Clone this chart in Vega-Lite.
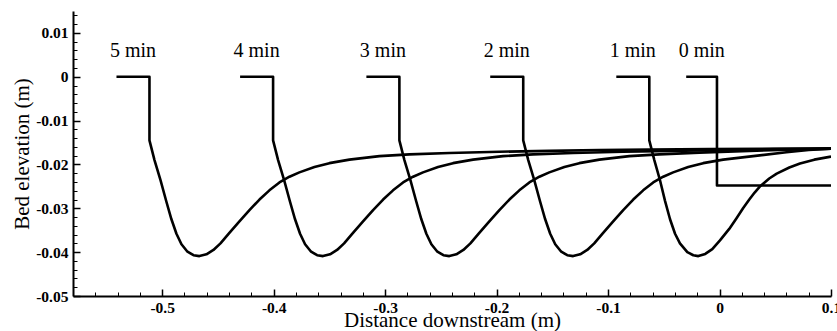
{
  "$schema": "https://vega.github.io/schema/vega-lite/v6.json",
  "width": 758,
  "height": 285,
  "autosize": {"type": "none"},
  "padding": {"left": 73, "top": 11, "right": 6, "bottom": 35},
  "background": "white",
  "config": {
    "view": {"stroke": null},
    "axis": {
      "grid": false,
      "domainColor": "black",
      "domainWidth": 2,
      "tickColor": "black",
      "tickWidth": 1.5,
      "labelFont": "Liberation Serif",
      "labelFontSize": 15.5,
      "labelFontWeight": "bold",
      "labelColor": "black",
      "labelFlush": false,
      "labelOverlap": false,
      "titleFont": "Liberation Serif",
      "titleFontSize": 21,
      "titleFontWeight": "normal",
      "titleColor": "black"
    }
  },
  "datasets": {
    "profiles": [
      {"t": "0 min", "x": -0.0299, "y": 0},
      {"t": "0 min", "x": -0.0023, "y": 0},
      {"t": "0 min", "x": -0.0023, "y": -0.0248},
      {"t": "0 min", "x": 0.1, "y": -0.0248},

      {"t": "1 min", "x": -0.0926, "y": 0},
      {"t": "1 min", "x": -0.063, "y": 0},
      {"t": "1 min", "x": -0.063, "y": -0.0145},
      {"t": "1 min", "x": -0.0585, "y": -0.019},
      {"t": "1 min", "x": -0.0534, "y": -0.0236},
      {"t": "1 min", "x": -0.0489, "y": -0.0283},
      {"t": "1 min", "x": -0.0444, "y": -0.0325},
      {"t": "1 min", "x": -0.0399, "y": -0.0358},
      {"t": "1 min", "x": -0.0355, "y": -0.038},
      {"t": "1 min", "x": -0.0289, "y": -0.04},
      {"t": "1 min", "x": -0.0235, "y": -0.0407},
      {"t": "1 min", "x": -0.019, "y": -0.0409},
      {"t": "1 min", "x": -0.0128, "y": -0.0404},
      {"t": "1 min", "x": -0.0065, "y": -0.0393},
      {"t": "1 min", "x": 0.0004, "y": -0.0373},
      {"t": "1 min", "x": 0.0087, "y": -0.0347},
      {"t": "1 min", "x": 0.0154, "y": -0.0322},
      {"t": "1 min", "x": 0.0211, "y": -0.03},
      {"t": "1 min", "x": 0.0267, "y": -0.028},
      {"t": "1 min", "x": 0.0315, "y": -0.0264},
      {"t": "1 min", "x": 0.0363, "y": -0.025},
      {"t": "1 min", "x": 0.0446, "y": -0.0232},
      {"t": "1 min", "x": 0.0513, "y": -0.0221},
      {"t": "1 min", "x": 0.0626, "y": -0.0207},
      {"t": "1 min", "x": 0.0722, "y": -0.0198},
      {"t": "1 min", "x": 0.085, "y": -0.0189},
      {"t": "1 min", "x": 0.1, "y": -0.0182},

      {"t": "2 min", "x": -0.2057, "y": 0},
      {"t": "2 min", "x": -0.1761, "y": 0},
      {"t": "2 min", "x": -0.1761, "y": -0.0145},
      {"t": "2 min", "x": -0.1716, "y": -0.019},
      {"t": "2 min", "x": -0.1662, "y": -0.0236},
      {"t": "2 min", "x": -0.1609, "y": -0.0285},
      {"t": "2 min", "x": -0.1564, "y": -0.0325},
      {"t": "2 min", "x": -0.1519, "y": -0.0358},
      {"t": "2 min", "x": -0.1474, "y": -0.0382},
      {"t": "2 min", "x": -0.142, "y": -0.0399},
      {"t": "2 min", "x": -0.1366, "y": -0.0407},
      {"t": "2 min", "x": -0.1313, "y": -0.0409},
      {"t": "2 min", "x": -0.125, "y": -0.0405},
      {"t": "2 min", "x": -0.1187, "y": -0.0395},
      {"t": "2 min", "x": -0.1124, "y": -0.038},
      {"t": "2 min", "x": -0.1044, "y": -0.0356},
      {"t": "2 min", "x": -0.0954, "y": -0.033},
      {"t": "2 min", "x": -0.0864, "y": -0.0304},
      {"t": "2 min", "x": -0.0774, "y": -0.028},
      {"t": "2 min", "x": -0.0685, "y": -0.0259},
      {"t": "2 min", "x": -0.0595, "y": -0.0241},
      {"t": "2 min", "x": -0.0505, "y": -0.0228},
      {"t": "2 min", "x": -0.0416, "y": -0.0218},
      {"t": "2 min", "x": -0.0281, "y": -0.0206},
      {"t": "2 min", "x": -0.0147, "y": -0.0197},
      {"t": "2 min", "x": 0.0033, "y": -0.0189},
      {"t": "2 min", "x": 0.0302, "y": -0.0181},
      {"t": "2 min", "x": 0.06, "y": -0.0172},
      {"t": "2 min", "x": 0.08, "y": -0.0167},
      {"t": "2 min", "x": 0.1, "y": -0.0164},

      {"t": "3 min", "x": -0.3168, "y": 0},
      {"t": "3 min", "x": -0.2872, "y": 0},
      {"t": "3 min", "x": -0.2872, "y": -0.0145},
      {"t": "3 min", "x": -0.2827, "y": -0.019},
      {"t": "3 min", "x": -0.2773, "y": -0.0236},
      {"t": "3 min", "x": -0.272, "y": -0.0285},
      {"t": "3 min", "x": -0.2675, "y": -0.0325},
      {"t": "3 min", "x": -0.263, "y": -0.0358},
      {"t": "3 min", "x": -0.2585, "y": -0.0382},
      {"t": "3 min", "x": -0.2531, "y": -0.0399},
      {"t": "3 min", "x": -0.2477, "y": -0.0407},
      {"t": "3 min", "x": -0.2424, "y": -0.0409},
      {"t": "3 min", "x": -0.2361, "y": -0.0405},
      {"t": "3 min", "x": -0.2298, "y": -0.0395},
      {"t": "3 min", "x": -0.2235, "y": -0.038},
      {"t": "3 min", "x": -0.2155, "y": -0.0356},
      {"t": "3 min", "x": -0.2065, "y": -0.033},
      {"t": "3 min", "x": -0.1975, "y": -0.0304},
      {"t": "3 min", "x": -0.1885, "y": -0.028},
      {"t": "3 min", "x": -0.1796, "y": -0.0259},
      {"t": "3 min", "x": -0.1706, "y": -0.0241},
      {"t": "3 min", "x": -0.1616, "y": -0.0228},
      {"t": "3 min", "x": -0.1527, "y": -0.0218},
      {"t": "3 min", "x": -0.1392, "y": -0.0206},
      {"t": "3 min", "x": -0.1258, "y": -0.0197},
      {"t": "3 min", "x": -0.1078, "y": -0.0189},
      {"t": "3 min", "x": -0.0809, "y": -0.0181},
      {"t": "3 min", "x": -0.054, "y": -0.0177},
      {"t": "3 min", "x": -0.0181, "y": -0.0173},
      {"t": "3 min", "x": 0.0267, "y": -0.0169},
      {"t": "3 min", "x": 0.0715, "y": -0.0166},
      {"t": "3 min", "x": 0.1, "y": -0.0164},

      {"t": "4 min", "x": -0.4301, "y": 0},
      {"t": "4 min", "x": -0.4005, "y": 0},
      {"t": "4 min", "x": -0.4005, "y": -0.0145},
      {"t": "4 min", "x": -0.396, "y": -0.019},
      {"t": "4 min", "x": -0.3906, "y": -0.0236},
      {"t": "4 min", "x": -0.3853, "y": -0.0285},
      {"t": "4 min", "x": -0.3808, "y": -0.0325},
      {"t": "4 min", "x": -0.3763, "y": -0.0358},
      {"t": "4 min", "x": -0.3718, "y": -0.0382},
      {"t": "4 min", "x": -0.3664, "y": -0.0399},
      {"t": "4 min", "x": -0.361, "y": -0.0407},
      {"t": "4 min", "x": -0.3557, "y": -0.0409},
      {"t": "4 min", "x": -0.3494, "y": -0.0405},
      {"t": "4 min", "x": -0.3431, "y": -0.0395},
      {"t": "4 min", "x": -0.3368, "y": -0.038},
      {"t": "4 min", "x": -0.3288, "y": -0.0356},
      {"t": "4 min", "x": -0.3198, "y": -0.033},
      {"t": "4 min", "x": -0.3108, "y": -0.0304},
      {"t": "4 min", "x": -0.3018, "y": -0.028},
      {"t": "4 min", "x": -0.2929, "y": -0.0259},
      {"t": "4 min", "x": -0.2839, "y": -0.0241},
      {"t": "4 min", "x": -0.2749, "y": -0.0228},
      {"t": "4 min", "x": -0.266, "y": -0.0218},
      {"t": "4 min", "x": -0.2525, "y": -0.0206},
      {"t": "4 min", "x": -0.2391, "y": -0.0197},
      {"t": "4 min", "x": -0.2211, "y": -0.0189},
      {"t": "4 min", "x": -0.1942, "y": -0.0181},
      {"t": "4 min", "x": -0.1673, "y": -0.0177},
      {"t": "4 min", "x": -0.1314, "y": -0.0174},
      {"t": "4 min", "x": -0.0866, "y": -0.0171},
      {"t": "4 min", "x": -0.0418, "y": -0.0169},
      {"t": "4 min", "x": 0.0031, "y": -0.0167},
      {"t": "4 min", "x": 0.0479, "y": -0.0165},
      {"t": "4 min", "x": 0.1, "y": -0.0164},

      {"t": "5 min", "x": -0.541, "y": 0},
      {"t": "5 min", "x": -0.5114, "y": 0},
      {"t": "5 min", "x": -0.5114, "y": -0.0145},
      {"t": "5 min", "x": -0.5069, "y": -0.019},
      {"t": "5 min", "x": -0.5015, "y": -0.0236},
      {"t": "5 min", "x": -0.4962, "y": -0.0285},
      {"t": "5 min", "x": -0.4917, "y": -0.0325},
      {"t": "5 min", "x": -0.4872, "y": -0.0358},
      {"t": "5 min", "x": -0.4827, "y": -0.0382},
      {"t": "5 min", "x": -0.4773, "y": -0.0399},
      {"t": "5 min", "x": -0.4719, "y": -0.0407},
      {"t": "5 min", "x": -0.4666, "y": -0.0409},
      {"t": "5 min", "x": -0.4603, "y": -0.0405},
      {"t": "5 min", "x": -0.454, "y": -0.0395},
      {"t": "5 min", "x": -0.4477, "y": -0.038},
      {"t": "5 min", "x": -0.4397, "y": -0.0356},
      {"t": "5 min", "x": -0.4307, "y": -0.033},
      {"t": "5 min", "x": -0.4217, "y": -0.0304},
      {"t": "5 min", "x": -0.4127, "y": -0.028},
      {"t": "5 min", "x": -0.4038, "y": -0.0259},
      {"t": "5 min", "x": -0.3948, "y": -0.0241},
      {"t": "5 min", "x": -0.3858, "y": -0.0228},
      {"t": "5 min", "x": -0.3769, "y": -0.0218},
      {"t": "5 min", "x": -0.3634, "y": -0.0206},
      {"t": "5 min", "x": -0.35, "y": -0.0197},
      {"t": "5 min", "x": -0.332, "y": -0.0189},
      {"t": "5 min", "x": -0.3051, "y": -0.0181},
      {"t": "5 min", "x": -0.2782, "y": -0.0177},
      {"t": "5 min", "x": -0.2423, "y": -0.0174},
      {"t": "5 min", "x": -0.1975, "y": -0.0171},
      {"t": "5 min", "x": -0.1527, "y": -0.0169},
      {"t": "5 min", "x": -0.1078, "y": -0.0167},
      {"t": "5 min", "x": -0.063, "y": -0.0166},
      {"t": "5 min", "x": -0.0092, "y": -0.0165},
      {"t": "5 min", "x": 0.0447, "y": -0.0164},
      {"t": "5 min", "x": 0.1, "y": -0.0163}
    ],
    "labels": [
      {"label": "5 min", "x": -0.5262, "y": 0.0046},
      {"label": "4 min", "x": -0.4153, "y": 0.0046},
      {"label": "3 min", "x": -0.302, "y": 0.0046},
      {"label": "2 min", "x": -0.1909, "y": 0.0046},
      {"label": "1 min", "x": -0.0778, "y": 0.0046},
      {"label": "0 min", "x": -0.016, "y": 0.0046}
    ]
  },
  "layer": [
    {
      "data": {"name": "profiles"},
      "mark": {"type": "line", "color": "black", "strokeWidth": 2.6, "strokeJoin": "round", "clip": true},
      "encoding": {
        "x": {
          "field": "x", "type": "quantitative",
          "scale": {"domain": [-0.58, 0.1], "nice": false, "zero": false},
          "axis": {
            "orient": "bottom",
            "title": "Distance downstream (m)",
            "values": [-0.5, -0.4, -0.3, -0.2, -0.1, 0, 0.1],
            "labelExpr": "'' + datum.value",
            "tickSize": -7,
            "labelPadding": 11,
            "titlePadding": -6
          }
        },
        "y": {
          "field": "y", "type": "quantitative",
          "scale": {"domain": [-0.05, 0.015], "nice": false, "zero": false},
          "axis": {
            "orient": "left",
            "title": "Bed elevation (m)",
            "values": [-0.05, -0.04, -0.03, -0.02, -0.01, 0, 0.01],
            "labelExpr": "'' + datum.value",
            "tickSize": -7,
            "labelPadding": 12,
            "titlePadding": 3
          }
        },
        "detail": {"field": "t"},
        "order": {"value": null}
      }
    },
    {
      "data": {"name": "labels"},
      "mark": {"type": "text", "font": "Liberation Serif", "fontSize": 20, "baseline": "alphabetic", "align": "center", "color": "black"},
      "encoding": {
        "x": {
          "field": "x", "type": "quantitative",
          "axis": {
            "orient": "bottom",
            "title": null,
            "labels": false,
            "domain": false,
            "values": [-0.56, -0.54, -0.52, -0.48, -0.46, -0.44, -0.42, -0.38, -0.36, -0.34, -0.32, -0.28, -0.26, -0.24, -0.22, -0.18, -0.16, -0.14, -0.12, -0.08, -0.06, -0.04, -0.02, 0.02, 0.04, 0.06, 0.08],
            "tickSize": -4,
            "tickWidth": 1
          }
        },
        "y": {
          "field": "y", "type": "quantitative",
          "axis": {
            "orient": "left",
            "title": null,
            "labels": false,
            "domain": false,
            "values": [-0.048, -0.046, -0.044, -0.042, -0.038, -0.036, -0.034, -0.032, -0.028, -0.026, -0.024, -0.022, -0.018, -0.016, -0.014, -0.012, -0.008, -0.006, -0.004, -0.002, 0.002, 0.004, 0.006, 0.008, 0.012, 0.014],
            "tickSize": -4,
            "tickWidth": 1
          }
        },
        "text": {"field": "label"}
      }
    }
  ],
  "resolve": {"axis": {"x": "independent", "y": "independent"}}
}
